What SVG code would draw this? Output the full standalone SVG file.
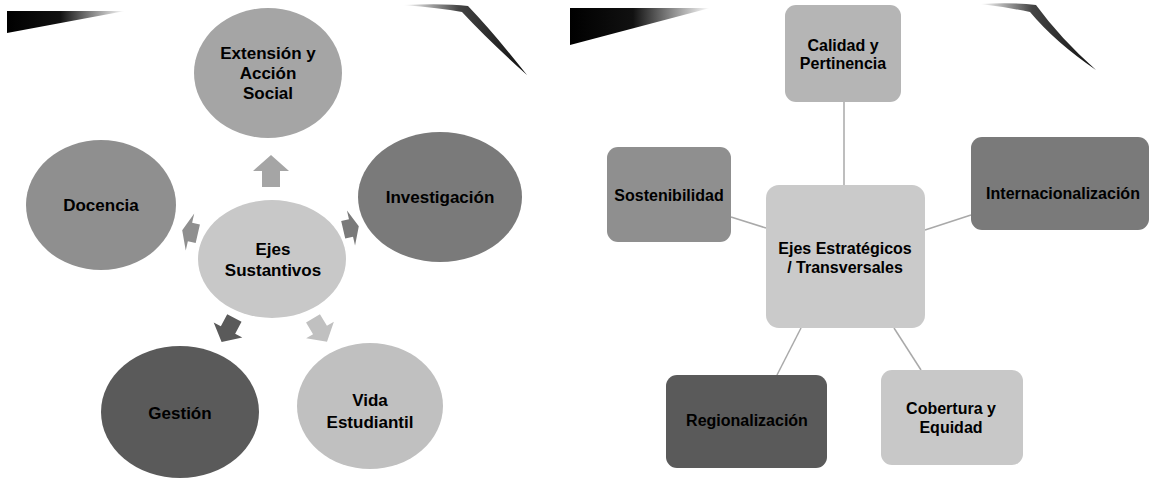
<svg xmlns="http://www.w3.org/2000/svg" width="1150" height="479" viewBox="0 0 1150 479">
<defs>
<style>
text{font-family:"Liberation Sans",Arial,sans-serif;font-weight:bold;fill:#000;text-anchor:middle;dominant-baseline:central}
.l{font-size:17px}
.r{font-size:16px}
.conn{stroke:#a9a9a9;stroke-width:1.5;fill:none}
</style>
<linearGradient id="wedge" x1="0" y1="0" x2="1" y2="0">
<stop offset="0" stop-color="#000"/>
<stop offset="0.45" stop-color="#111"/>
<stop offset="1" stop-color="#fff"/>
</linearGradient>
<linearGradient id="swoosh" x1="0" y1="0" x2="1" y2="0">
<stop offset="0" stop-color="#fff"/>
<stop offset="0.45" stop-color="#444"/>
<stop offset="1" stop-color="#111"/>
</linearGradient>
<path id="arr" d="M16 0 L0 -18 L0 -9 L-16 -9 L-16 9 L0 9 L0 18 Z"/>
</defs>
<rect width="1150" height="479" fill="#fff"/>
<g id="decor">
<polygon points="7,11 125,11 7,33" fill="url(#wedge)"/>
<polygon points="570,8 710,8 570,45" fill="url(#wedge)"/>
<path d="M403 5 Q445 3 468 6 Q493 32 527 75 Q488 40 462 12 Q440 8 403 5 Z" fill="url(#swoosh)"/>
<path d="M980 4 Q1012 2 1036 5 Q1060 38 1096 70 Q1055 42 1030 12 Q1006 7 980 4 Z" fill="url(#swoosh)"/>
</g>
<g id="arrows">
<use href="#arr" transform="translate(271,171) rotate(-90)" fill="#a5a5a5"/>
<use href="#arr" transform="translate(190,232) rotate(193) scale(0.5,1.05)" fill="#8f8f8f"/>
<use href="#arr" transform="translate(351,228) rotate(-13) scale(0.5,1)" fill="#7a7a7a"/>
<use href="#arr" transform="translate(228,330) rotate(118) scale(0.85,0.9)" fill="#5a5a5a"/>
<use href="#arr" transform="translate(320,330) rotate(59) scale(0.85,0.9)" fill="#c0c0c0"/>
</g>
<g id="connectors">
<line class="conn" x1="844" y1="102" x2="844" y2="185"/>
<line class="conn" x1="731" y1="217" x2="766" y2="228"/>
<line class="conn" x1="925" y1="230" x2="971" y2="215"/>
<line class="conn" x1="801" y1="328" x2="777" y2="375"/>
<line class="conn" x1="894" y1="328" x2="921" y2="370"/>
</g>
<g id="extension">
<ellipse cx="268" cy="73" rx="74" ry="65" fill="#a5a5a5"/>
<text class="l" x="268" y="53">Extensión y</text>
<text class="l" x="268" y="73">Acción</text>
<text class="l" x="268" y="93">Social</text>
</g>
<g id="docencia">
<ellipse cx="101" cy="205" rx="75" ry="65" fill="#8f8f8f"/>
<text class="l" x="101" y="205">Docencia</text>
</g>
<g id="investigacion">
<ellipse cx="440" cy="197" rx="82" ry="65" fill="#7a7a7a"/>
<text class="l" x="440" y="197">Investigación</text>
</g>
<g id="ejes-sustantivos">
<ellipse cx="272" cy="259" rx="74" ry="59" fill="#c8c8c8"/>
<text class="l" x="273" y="249">Ejes</text>
<text class="l" x="273" y="270">Sustantivos</text>
</g>
<g id="gestion">
<ellipse cx="180" cy="412" rx="79" ry="66" fill="#5a5a5a"/>
<text class="l" x="180" y="413">Gestión</text>
</g>
<g id="vida-estudiantil">
<ellipse cx="370" cy="406" rx="73" ry="63" fill="#c0c0c0"/>
<text class="l" x="370" y="400">Vida</text>
<text class="l" x="370" y="422">Estudiantil</text>
</g>
<g id="calidad">
<rect x="785" y="5" width="116" height="97" rx="11" fill="#b5b5b5"/>
<text class="r" x="843" y="45">Calidad y</text>
<text class="r" x="843" y="63">Pertinencia</text>
</g>
<g id="sostenibilidad">
<rect x="607" y="147" width="124" height="95" rx="11" fill="#8f8f8f"/>
<text class="r" x="669" y="195">Sostenibilidad</text>
</g>
<g id="ejes-estrategicos">
<rect x="766" y="185" width="159" height="143" rx="13" fill="#cacaca"/>
<text class="r" x="845" y="248">Ejes Estratégicos</text>
<text class="r" x="845" y="267">/ Transversales</text>
</g>
<g id="internacionalizacion">
<rect x="971" y="137" width="178" height="93" rx="11" fill="#7a7a7a"/>
<text class="r" x="1063" y="193">Internacionalización</text>
</g>
<g id="regionalizacion">
<rect x="666" y="375" width="161" height="93" rx="11" fill="#5a5a5a"/>
<text class="r" x="747" y="420">Regionalización</text>
</g>
<g id="cobertura">
<rect x="881" y="370" width="142" height="95" rx="11" fill="#c8c8c8"/>
<text class="r" x="951" y="408">Cobertura y</text>
<text class="r" x="951" y="427">Equidad</text>
</g>
</svg>
